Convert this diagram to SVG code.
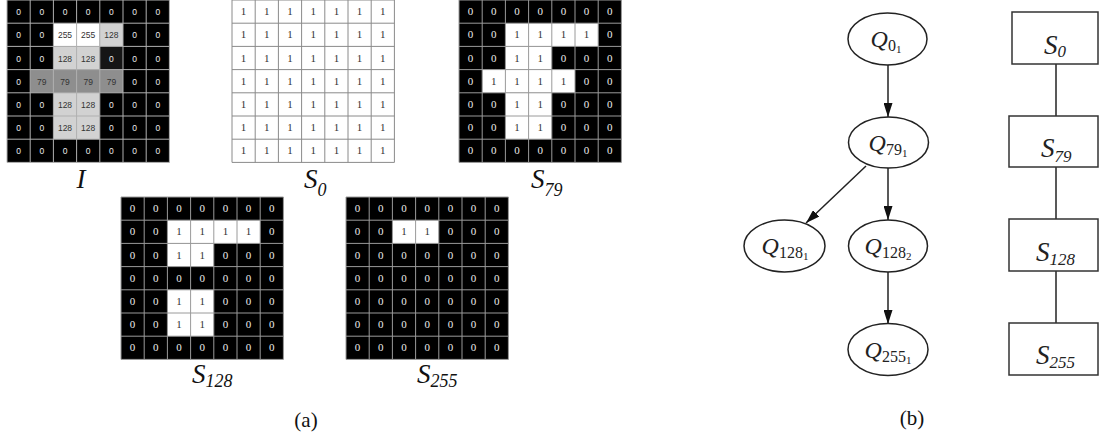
<svg xmlns="http://www.w3.org/2000/svg" xmlns:xlink="http://www.w3.org/1999/xlink" width="1099" height="437" viewBox="0 0 1099 437">
<style>
.gl{fill:none;stroke:#9a9a9a;stroke-width:1}
.ts{font-family:"Liberation Sans",Arial,sans-serif;font-size:8.5px;text-anchor:middle}
.tr{font-family:"Liberation Serif","Times New Roman",serif;font-size:11px;text-anchor:middle}
.w{fill:#ececec}
.k{fill:#333333}
.lab{font-family:"Liberation Serif","Times New Roman",serif;font-style:italic;font-size:27px;fill:#111}
.node ellipse{fill:#fff;stroke:#222;stroke-width:1.5}
.qt{font-family:"Liberation Serif","Times New Roman",serif;font-style:italic;font-size:24px;text-anchor:middle;fill:#222}
.up{font-style:normal}
.box rect{fill:#fff;stroke:#333;stroke-width:1.5}
.bt{font-family:"Liberation Serif","Times New Roman",serif;font-style:italic;font-size:27px;fill:#222}
.edge{stroke:#222;stroke-width:1.5;fill:none}
.cap{font-family:"Liberation Serif","Times New Roman",serif;font-size:21px;text-anchor:middle;fill:#111}
</style>
<defs>
<path id="gl" d="M0,0V162.4M23.2,0V162.4M46.4,0V162.4M69.6,0V162.4M92.8,0V162.4M116,0V162.4M139.2,0V162.4M162.4,0V162.4M0,0H162.4M0,23.2H162.4M0,46.4H162.4M0,69.6H162.4M0,92.8H162.4M0,116H162.4M0,139.2H162.4M0,162.4H162.4"/>
<marker id="ah" markerUnits="userSpaceOnUse" markerWidth="14" markerHeight="9" refX="14" refY="4.5" orient="auto">
<path d="M0,0L14,4.5L0,9z" fill="#111"/>
</marker>
</defs>

<g id="panel-a">
<g id="grid-I" transform="translate(7,0)">
<rect width="162.4" height="162.4" fill="#000"/>
<rect x="46.4" y="23.2" width="46.4" height="23.2" fill="#fff"/>
<rect x="92.8" y="23.2" width="23.2" height="23.2" fill="#d2d2d2"/>
<rect x="46.4" y="46.4" width="46.4" height="23.2" fill="#d2d2d2"/>
<rect x="92.8" y="46.4" width="23.2" height="23.2" fill="#151515"/>
<rect x="23.2" y="69.6" width="92.8" height="23.2" fill="#8e8e8e"/>
<rect x="46.4" y="92.8" width="46.4" height="46.4" fill="#d2d2d2"/>
<use xlink:href="#gl" class="gl" style="stroke:#b0b0b0"/>
<text class="ts" y="15.1"><tspan class="w" x="11.6 34.8 58 81.2 104.4 127.6 150.8">0000000</tspan></text>
<text class="ts" y="38.3"><tspan class="w" x="11.6 34.8">00</tspan><tspan class="k" x="58">255</tspan><tspan class="k" x="81.2">255</tspan><tspan class="k" x="104.4">128</tspan><tspan class="w" x="127.6 150.8">00</tspan></text>
<text class="ts" y="61.5"><tspan class="w" x="11.6 34.8">00</tspan><tspan class="k" x="58">128</tspan><tspan class="k" x="81.2">128</tspan><tspan class="w" x="104.4 127.6 150.8">000</tspan></text>
<text class="ts" y="84.7"><tspan class="w" x="11.6">0</tspan><tspan class="k" x="34.8">79</tspan><tspan class="k" x="58">79</tspan><tspan class="k" x="81.2">79</tspan><tspan class="k" x="104.4">79</tspan><tspan class="w" x="127.6 150.8">00</tspan></text>
<text class="ts" y="107.9"><tspan class="w" x="11.6 34.8">00</tspan><tspan class="k" x="58">128</tspan><tspan class="k" x="81.2">128</tspan><tspan class="w" x="104.4 127.6 150.8">000</tspan></text>
<text class="ts" y="131.1"><tspan class="w" x="11.6 34.8">00</tspan><tspan class="k" x="58">128</tspan><tspan class="k" x="81.2">128</tspan><tspan class="w" x="104.4 127.6 150.8">000</tspan></text>
<text class="ts" y="154.3"><tspan class="w" x="11.6 34.8 58 81.2 104.4 127.6 150.8">0000000</tspan></text>
</g>
<text class="lab" x="81" y="188" text-anchor="middle">I</text>

<g id="grid-S0" transform="translate(232,0)">
<rect width="162.4" height="162.4" fill="#fff"/>
<use xlink:href="#gl" class="gl" style="stroke:#8a8a8a"/>
<text class="tr k" y="15.1" x="11.6 34.8 58 81.2 104.4 127.6 150.8">1111111</text>
<text class="tr k" y="38.3" x="11.6 34.8 58 81.2 104.4 127.6 150.8">1111111</text>
<text class="tr k" y="61.5" x="11.6 34.8 58 81.2 104.4 127.6 150.8">1111111</text>
<text class="tr k" y="84.7" x="11.6 34.8 58 81.2 104.4 127.6 150.8">1111111</text>
<text class="tr k" y="107.9" x="11.6 34.8 58 81.2 104.4 127.6 150.8">1111111</text>
<text class="tr k" y="131.1" x="11.6 34.8 58 81.2 104.4 127.6 150.8">1111111</text>
<text class="tr k" y="154.3" x="11.6 34.8 58 81.2 104.4 127.6 150.8">1111111</text>
</g>
<text class="lab" x="304" y="188">S<tspan font-size="18" dy="8">0</tspan></text>

<g id="grid-S79" transform="translate(459,0)">
<rect width="162.4" height="162.4" fill="#000"/>
<rect x="46.4" y="23.2" width="92.8" height="23.2" fill="#fff"/>
<rect x="46.4" y="46.4" width="46.4" height="23.2" fill="#fff"/>
<rect x="23.2" y="69.6" width="92.8" height="23.2" fill="#fff"/>
<rect x="46.4" y="92.8" width="46.4" height="46.4" fill="#fff"/>
<use xlink:href="#gl" class="gl"/>
<text class="tr" y="15.1"><tspan class="w" x="11.6 34.8 58 81.2 104.4 127.6 150.8">0000000</tspan></text>
<text class="tr" y="38.3"><tspan class="w" x="11.6 34.8">00</tspan><tspan class="k" x="58 81.2 104.4 127.6">1111</tspan><tspan class="w" x="150.8">0</tspan></text>
<text class="tr" y="61.5"><tspan class="w" x="11.6 34.8">00</tspan><tspan class="k" x="58 81.2">11</tspan><tspan class="w" x="104.4 127.6 150.8">000</tspan></text>
<text class="tr" y="84.7"><tspan class="w" x="11.6">0</tspan><tspan class="k" x="34.8 58 81.2 104.4">1111</tspan><tspan class="w" x="127.6 150.8">00</tspan></text>
<text class="tr" y="107.9"><tspan class="w" x="11.6 34.8">00</tspan><tspan class="k" x="58 81.2">11</tspan><tspan class="w" x="104.4 127.6 150.8">000</tspan></text>
<text class="tr" y="131.1"><tspan class="w" x="11.6 34.8">00</tspan><tspan class="k" x="58 81.2">11</tspan><tspan class="w" x="104.4 127.6 150.8">000</tspan></text>
<text class="tr" y="154.3"><tspan class="w" x="11.6 34.8 58 81.2 104.4 127.6 150.8">0000000</tspan></text>
</g>
<text class="lab" x="531" y="188">S<tspan font-size="18" dy="8">79</tspan></text>

<g id="grid-S128" transform="translate(121,197)">
<rect width="162.4" height="162.4" fill="#000"/>
<rect x="46.4" y="23.2" width="92.8" height="23.2" fill="#fff"/>
<rect x="46.4" y="46.4" width="46.4" height="23.2" fill="#fff"/>
<rect x="46.4" y="92.8" width="46.4" height="46.4" fill="#fff"/>
<use xlink:href="#gl" class="gl"/>
<text class="tr" y="15.1"><tspan class="w" x="11.6 34.8 58 81.2 104.4 127.6 150.8">0000000</tspan></text>
<text class="tr" y="38.3"><tspan class="w" x="11.6 34.8">00</tspan><tspan class="k" x="58 81.2 104.4 127.6">1111</tspan><tspan class="w" x="150.8">0</tspan></text>
<text class="tr" y="61.5"><tspan class="w" x="11.6 34.8">00</tspan><tspan class="k" x="58 81.2">11</tspan><tspan class="w" x="104.4 127.6 150.8">000</tspan></text>
<text class="tr" y="84.7"><tspan class="w" x="11.6 34.8 58 81.2 104.4 127.6 150.8">0000000</tspan></text>
<text class="tr" y="107.9"><tspan class="w" x="11.6 34.8">00</tspan><tspan class="k" x="58 81.2">11</tspan><tspan class="w" x="104.4 127.6 150.8">000</tspan></text>
<text class="tr" y="131.1"><tspan class="w" x="11.6 34.8">00</tspan><tspan class="k" x="58 81.2">11</tspan><tspan class="w" x="104.4 127.6 150.8">000</tspan></text>
<text class="tr" y="154.3"><tspan class="w" x="11.6 34.8 58 81.2 104.4 127.6 150.8">0000000</tspan></text>
</g>
<text class="lab" x="192" y="383">S<tspan font-size="18" dy="4">128</tspan></text>

<g id="grid-S255" transform="translate(346,197)">
<rect width="162.4" height="162.4" fill="#000"/>
<rect x="46.4" y="23.2" width="46.4" height="23.2" fill="#fff"/>
<use xlink:href="#gl" class="gl"/>
<text class="tr" y="15.1"><tspan class="w" x="11.6 34.8 58 81.2 104.4 127.6 150.8">0000000</tspan></text>
<text class="tr" y="38.3"><tspan class="w" x="11.6 34.8">00</tspan><tspan class="k" x="58 81.2">11</tspan><tspan class="w" x="104.4 127.6 150.8">000</tspan></text>
<text class="tr" y="61.5"><tspan class="w" x="11.6 34.8 58 81.2 104.4 127.6 150.8">0000000</tspan></text>
<text class="tr" y="84.7"><tspan class="w" x="11.6 34.8 58 81.2 104.4 127.6 150.8">0000000</tspan></text>
<text class="tr" y="107.9"><tspan class="w" x="11.6 34.8 58 81.2 104.4 127.6 150.8">0000000</tspan></text>
<text class="tr" y="131.1"><tspan class="w" x="11.6 34.8 58 81.2 104.4 127.6 150.8">0000000</tspan></text>
<text class="tr" y="154.3"><tspan class="w" x="11.6 34.8 58 81.2 104.4 127.6 150.8">0000000</tspan></text>
</g>
<text class="lab" x="417" y="383">S<tspan font-size="18" dy="4">255</tspan></text>

<text class="cap" x="306" y="427">(a)</text>
</g>

<g id="panel-b">
<g id="connectors">
<line class="edge" x1="888" y1="65" x2="888" y2="117" marker-end="url(#ah)"/>
<line class="edge" x1="866" y1="166" x2="806" y2="223" marker-end="url(#ah)"/>
<line class="edge" x1="888" y1="168" x2="888" y2="220" marker-end="url(#ah)"/>
<line class="edge" x1="888" y1="272" x2="888" y2="324" marker-end="url(#ah)"/>
<line class="edge" x1="1056" y1="64" x2="1056" y2="116"/>
<line class="edge" x1="1056" y1="167" x2="1056" y2="219"/>
<line class="edge" x1="1056" y1="271" x2="1056" y2="323"/>
</g>

<g id="Q0_1" class="node"><ellipse cx="887.5" cy="39" rx="39.5" ry="26"/><text class="qt" x="886" y="47">Q<tspan class="up" font-size="16" dy="4">0</tspan><tspan class="up" font-size="11" dy="2">1</tspan></text></g>
<g id="Q79_1" class="node"><ellipse cx="888.5" cy="142.5" rx="40" ry="25.5"/><text class="qt" x="888" y="151">Q<tspan class="up" font-size="16" dy="4">79</tspan><tspan class="up" font-size="11" dy="2">1</tspan></text></g>
<g id="Q128_1" class="node"><ellipse cx="784.5" cy="246" rx="40.5" ry="26"/><text class="qt" x="785" y="254">Q<tspan class="up" font-size="16" dy="4">128</tspan><tspan class="up" font-size="11" dy="2">1</tspan></text></g>
<g id="Q128_2" class="node"><ellipse cx="888" cy="246" rx="39.5" ry="26"/><text class="qt" x="888" y="254">Q<tspan class="up" font-size="16" dy="4">128</tspan><tspan class="up" font-size="11" dy="2">2</tspan></text></g>
<g id="Q255_1" class="node"><ellipse cx="888" cy="349.5" rx="40" ry="26"/><text class="qt" x="888" y="358">Q<tspan class="up" font-size="16" dy="4">255</tspan><tspan class="up" font-size="11" dy="2">1</tspan></text></g>

<g id="box-S0" class="box"><rect x="1012" y="12" width="86" height="52"/><text class="bt" x="1044" y="54">S<tspan font-size="17" dy="3">0</tspan></text></g>
<g id="box-S79" class="box"><rect x="1009" y="116" width="89" height="51"/><text class="bt" x="1041" y="157">S<tspan font-size="17" dy="5">79</tspan></text></g>
<g id="box-S128" class="box"><rect x="1009" y="219" width="89" height="52"/><text class="bt" x="1036" y="261">S<tspan font-size="17" dy="4">128</tspan></text></g>
<g id="box-S255" class="box"><rect x="1009" y="323" width="89" height="52"/><text class="bt" x="1036" y="364">S<tspan font-size="17" dy="4">255</tspan></text></g>

<text class="cap" x="912" y="425">(b)</text>
</g>
</svg>
